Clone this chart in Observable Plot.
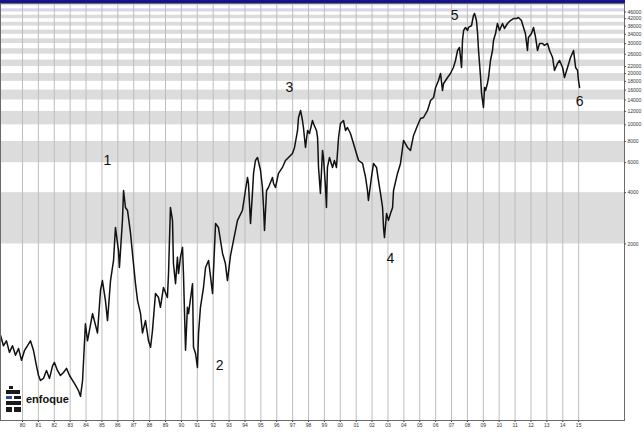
<!DOCTYPE html>
<html><head>
<meta charset="utf-8">
<script src="https://cdn.jsdelivr.net/npm/d3@7"></script>
<script src="https://cdn.jsdelivr.net/npm/@observablehq/plot@0.6"></script>
<style>
html,body{margin:0;padding:0;background:#fff;}
#chart{position:relative;width:644px;height:434px;overflow:hidden;}
#topbar{position:absolute;left:0;top:0;width:625px;height:3px;background:#14148c;}
#logo{position:absolute;left:4px;top:385px;display:flex;align-items:center;}
#logo span{font-family:"Liberation Sans",Arial,sans-serif;font-weight:bold;font-size:11px;color:#111;margin-left:2px;}
</style>
</head><body>
<div id="chart"></div>
<script>
// Index path (decimal year, index level)
const years = [1978.62,1978.80,1978.99,1979.18,1979.37,1979.56,1979.75,1979.94,1980.13,1980.31,1980.50,1980.69,1980.88,1981.01,1981.13,1981.32,1981.51,1981.70,1981.89,1982.01,1982.20,1982.39,1982.58,1982.77,1982.96,1983.15,1983.34,1983.52,1983.65,1983.78,1983.96,1984.09,1984.41,1984.72,1984.91,1985.03,1985.22,1985.35,1985.54,1985.73,1985.85,1986.04,1986.10,1986.29,1986.36,1986.48,1986.61,1986.80,1986.92,1987.11,1987.24,1987.43,1987.55,1987.74,1987.93,1988.06,1988.18,1988.37,1988.56,1988.68,1988.87,1989.12,1989.19,1989.31,1989.44,1989.50,1989.63,1989.75,1989.82,1989.94,1990.07,1990.13,1990.26,1990.38,1990.45,1990.70,1990.76,1990.89,1991.01,1991.08,1991.20,1991.39,1991.52,1991.71,1991.96,1992.15,1992.33,1992.59,1992.77,1992.90,1993.09,1993.28,1993.53,1993.84,1994.03,1994.16,1994.22,1994.35,1994.47,1994.54,1994.66,1994.79,1994.98,1995.10,1995.17,1995.23,1995.36,1995.48,1995.73,1995.80,1995.92,1996.11,1996.36,1996.55,1996.74,1996.99,1997.12,1997.31,1997.37,1997.50,1997.62,1997.68,1997.81,1997.94,1998.06,1998.25,1998.31,1998.50,1998.57,1998.63,1998.75,1998.88,1998.94,1999.07,1999.13,1999.19,1999.32,1999.51,1999.63,1999.76,1999.89,2000.01,2000.20,2000.33,2000.45,2000.64,2000.83,2000.96,2001.15,2001.40,2001.59,2001.71,2001.77,2001.96,2002.09,2002.28,2002.40,2002.53,2002.66,2002.72,2002.78,2002.91,2003.03,2003.16,2003.29,2003.35,2003.60,2003.79,2003.98,2004.23,2004.42,2004.61,2004.86,2005.05,2005.24,2005.49,2005.68,2005.87,2006.00,2006.18,2006.31,2006.43,2006.50,2006.75,2006.93,2007.12,2007.25,2007.38,2007.50,2007.63,2007.69,2007.76,2007.88,2008.01,2008.07,2008.26,2008.38,2008.45,2008.57,2008.64,2008.70,2008.83,2008.89,2008.95,2009.01,2009.08,2009.14,2009.26,2009.33,2009.45,2009.58,2009.64,2009.77,2009.89,2010.02,2010.21,2010.33,2010.52,2010.71,2010.90,2011.09,2011.21,2011.40,2011.53,2011.65,2011.78,2011.84,2012.03,2012.16,2012.29,2012.41,2012.54,2012.73,2012.85,2013.04,2013.17,2013.36,2013.48,2013.67,2013.80,2013.99,2014.11,2014.30,2014.49,2014.68,2014.81,2014.93,2014.99,2015.06];
const values = [580,505,540,462,505,445,487,415,475,505,540,475,385,338,316,325,362,325,385,403,362,338,352,372,338,316,296,276,255,316,680,540,780,600,1070,1220,930,710,1220,1600,2500,1830,1455,2750,4120,3275,3145,2305,1760,1170,930,780,600,710,540,495,620,1025,970,850,1110,970,1340,3275,2750,1535,1170,1670,1340,1670,1910,1340,475,850,780,1170,495,455,377,600,850,1110,1455,1600,1025,2640,2500,1760,1535,1220,1710,2100,2750,3145,4120,4915,4530,2640,3960,5190,6180,6440,5400,4290,3275,2400,4120,4290,4915,4530,4290,5190,5625,6180,6440,6800,7370,9270,11050,12150,10610,9650,7370,9270,8900,10610,10190,9270,8430,5625,3960,7080,6440,4290,3275,5625,6440,5625,6180,5625,8430,10190,10610,9270,9650,8900,7780,7080,6180,5940,4915,4120,3600,4915,5940,5625,4720,3960,3275,2500,2180,3020,2750,3020,3275,4120,5190,5940,8100,7370,7080,8670,9920,10900,11050,12150,13910,14480,16580,18220,20030,15910,17500,18970,20030,21720,23880,27330,28460,21720,31280,35810,37300,35810,37300,38310,43850,45070,40980,34390,27330,18970,15290,13910,12660,16580,15910,17500,18970,23880,27330,31280,34390,39360,35810,39360,36790,39360,40980,42110,42110,42700,40980,37300,34390,27330,32600,34390,37300,32600,27330,30040,30040,29240,30040,27330,24860,20870,22930,23880,21720,18970,21720,24860,27330,21720,20870,18220,16580];

// Axis ticks
const xTicks = [1980,1981,1982,1983,1984,1985,1986,1987,1988,1989,1990,1991,1992,1993,1994,1995,1996,1997,1998,1999,2000,2001,2002,2003,2004,2005,2006,2007,2008,2009,2010,2011,2012,2013,2014,2015];
const yTicks = [2000,4000,6000,8000,10000,12000,14000,16000,18000,20000,22000,26000,30000,34000,38000,42000,46000];
const bandEdges = [2000,4000,6000,8000,10000,12000,14000,16000,18000,20000,22000,24000,26000,28000,30000,32000,34000,36000,38000,40000,42000,44000,46000,48000,50000,52000];

// Wave annotations
const waveLabels = ["1","2","3","4","5","6"];
const waveYears = [1985.35,1992.40,1996.80,2003.16,2007.19,2015.06];
const waveValues = [6180,385,16580,1650,43850,13800];

const xDomain = [1978.6155, 2017.886];
const yDomain = [184, 51580];
const tickLen = 0.13; // right-axis tick length, in years

const data = years.map((t, i) => ({year: t, value: values[i]}));
const bands = [];
for (let i = 0; i < bandEdges.length - 1; i++) {
  if (i % 2 === 0) bands.push({y1: bandEdges[i], y2: bandEdges[i + 1], top: bandEdges[i] === 46000});
}
const waves = waveLabels.map((l, i) => ({label: l, year: waveYears[i], value: waveValues[i]}));

const chart = Plot.plot({
  width: 644,
  height: 434,
  marginLeft: 0,
  marginRight: 20,
  marginTop: 3,
  marginBottom: 14,
  style: {fontFamily: "'Liberation Sans Narrow','Arial Narrow','Liberation Sans',sans-serif", fontSize: "5px", color: "#333", background: "#fff"},
  x: {type: "linear", domain: xDomain, ticks: xTicks, tickFormat: d => String(d % 100).padStart(2, "0"), tickSize: 2, tickPadding: 1, label: null},
  y: {type: "log", domain: yDomain, axis: null},
  marks: [
    Plot.rect(bands, {x1: () => xDomain[0], x2: () => xDomain[1], y1: "y1", y2: "y2", fill: d => d.top ? "#d9d6ea" : "#dcdcdc"}),
    Plot.ruleX(xTicks, {stroke: "#bdbdbd", strokeWidth: 1}),
    Plot.line(data, {x: "year", y: "value", stroke: "#111", strokeWidth: 1.5}),
    Plot.text(waves, {x: "year", y: "value", text: "label", fontSize: 14, fill: "#111", fontFamily: "'Liberation Sans',Arial,sans-serif"}),
    Plot.frame({stroke: "#6a6a6a", strokeWidth: 1}),
    Plot.ruleY(yTicks, {y: d => d, x1: () => xDomain[1], x2: () => xDomain[1] + tickLen, stroke: "#555", strokeWidth: 1, clip: false}),
    Plot.text(yTicks, {x: () => xDomain[1], y: d => d, text: d => String(d), textAnchor: "start", dx: 3, fill: "#333", fontSize: 5, clip: false})
  ]
});
const root = document.getElementById("chart");
root.appendChild(chart);
const bar = document.createElement("div");
bar.id = "topbar";
root.appendChild(bar);
const logo = document.createElement("div");
logo.id = "logo";
logo.innerHTML = '<svg width="20" height="28" viewBox="0 0 20 28"><rect x="5" y="1" width="4" height="3" fill="#1a1a1a"/><rect x="2" y="5" width="14" height="4" fill="#1a1a1a"/><rect x="2" y="11" width="6" height="3" fill="#2b4aa0"/><rect x="10" y="11" width="7" height="3" fill="#1a1a1a"/><rect x="2" y="16" width="15" height="4" fill="#1a1a1a"/><rect x="2" y="22" width="6" height="5" fill="#1a1a1a"/><rect x="10" y="22" width="7" height="5" fill="#1a1a1a"/></svg><span>enfoque</span>';
root.appendChild(logo);
</script>
</body></html>
